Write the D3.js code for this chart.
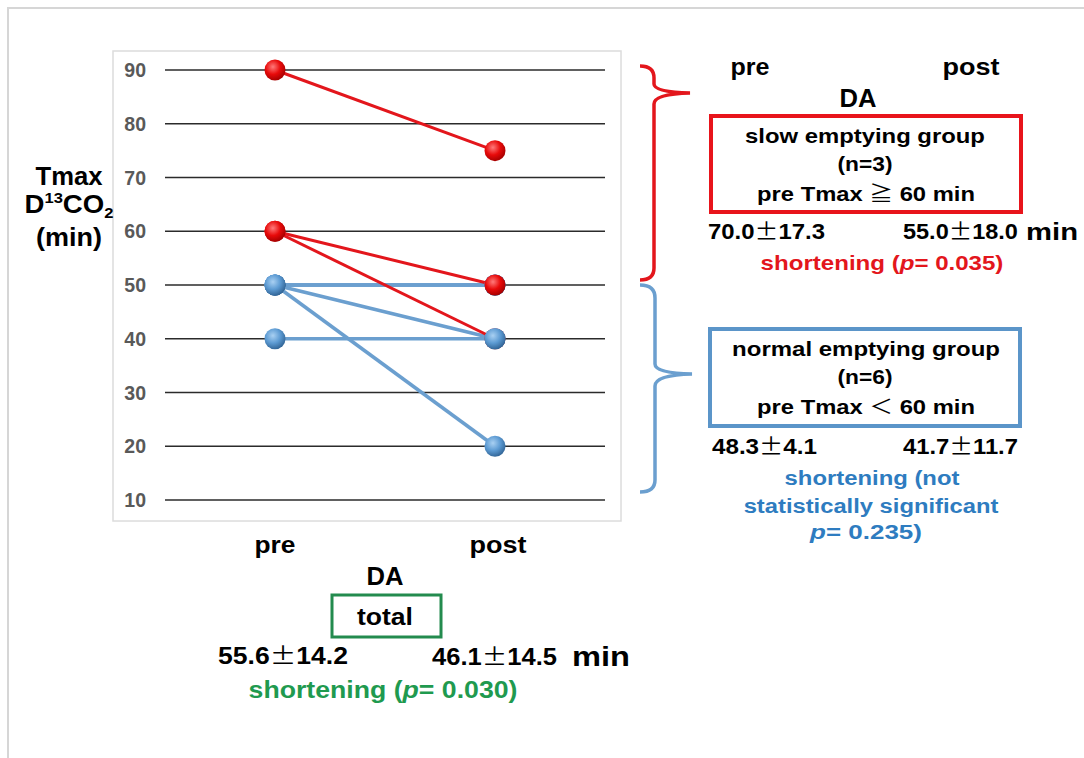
<!DOCTYPE html>
<html>
<head>
<meta charset="utf-8">
<script src="https://cdn.jsdelivr.net/npm/d3@7"></script>
<style>
  html, body { margin: 0; padding: 0; background: #fff; }
</style>
</head>
<body>
<div id="chart"></div>
<script>
// values
const categories = ['pre', 'post'];
const yTicks = [10, 20, 30, 40, 50, 60, 70, 80, 90];
// slow emptying group (n=3)
const slowPre = [90, 60, 60];
const slowPost = [75, 50, 40];
// normal emptying group (n=6), some pairs overlap
const normalPre = [50, 50, 50, 50, 50, 40];
const normalPost = [50, 50, 50, 40, 20, 40];

const FONT = "'Liberation Sans', Arial, sans-serif";
const CJK = "'Noto Sans CJK JP', sans-serif";
const RED = '#e3161c', BLUE = '#6b9fcf', GREEN = '#1f9a4f';

const svg = d3.select('#chart').append('svg').attr('width', 1084).attr('height', 758);

// outer frame
svg.append('rect').attr('x', 8).attr('y', 8).attr('width', 1100).attr('height', 800)
    .attr('fill', 'none').attr('stroke', '#d6d6d6').attr('stroke-width', 2);

// plot frame
svg.append('rect').attr('x', 113).attr('y', 51).attr('width', 508).attr('height', 470)
    .attr('fill', 'none').attr('stroke', '#dcdcdc').attr('stroke-width', 1.5);

const x = d3.scalePoint().domain(categories).range([275, 495]);
const y = d3.scaleLinear().domain([10, 90]).range([500, 70]);

// gridlines
svg.append('g').selectAll('line').data(yTicks).join('line')
    .attr('x1', 165).attr('x2', 605)
    .attr('y1', d => y(d)).attr('y2', d => y(d))
    .attr('stroke', '#2b2b2b').attr('stroke-width', 1.3);

// y tick labels
svg.append('g').selectAll('text').data(yTicks).join('text')
    .attr('x', 146).attr('y', d => y(d) + 7)
    .attr('text-anchor', 'end')
    .attr('font-family', FONT).attr('font-weight', 'bold').attr('font-size', 19.5)
    .attr('fill', '#595959')
    .text(d => d);

// gradients for the sphere markers
const defs = svg.append('defs');
function sphere(id, light, mid, dark) {
  const g = defs.append('radialGradient').attr('id', id)
      .attr('cx', '40%').attr('cy', '35%').attr('r', '65%');
  g.append('stop').attr('offset', '0%').attr('stop-color', light);
  g.append('stop').attr('offset', '55%').attr('stop-color', mid);
  g.append('stop').attr('offset', '100%').attr('stop-color', dark);
}
sphere('redBall', '#ff7a7a', '#e80a0a', '#a80000');
sphere('blueBall', '#a9d0f2', '#5d9bd3', '#34689a');

const pairs = (pre, post, grp) => pre.map((v, i) => ({grp: grp, vals: [v, post[i]]}));
const normalPairs = pairs(normalPre, normalPost, 'normal');
const slowPairs = pairs(slowPre, slowPost, 'slow');

const line = d3.line().x((d, i) => x(categories[i])).y(d => y(d));

svg.append('g').selectAll('path').data(normalPairs).join('path')
    .attr('d', d => line(d.vals)).attr('fill', 'none')
    .attr('stroke', BLUE).attr('stroke-width', 3.5);
svg.append('g').selectAll('path').data(slowPairs).join('path')
    .attr('d', d => line(d.vals)).attr('fill', 'none')
    .attr('stroke', RED).attr('stroke-width', 3);

// markers drawn patient by patient (series order as in the original sheet)
const seriesOrder = normalPairs.slice(0, 3).concat(slowPairs, normalPairs.slice(3));
const pts = [];
seriesOrder.forEach(p => p.vals.forEach((v, i) => pts.push({c: categories[i], v: v, grp: p.grp})));
svg.append('g').selectAll('circle').data(pts).join('circle')
    .attr('cx', d => x(d.c)).attr('cy', d => y(d.v)).attr('r', 10.5)
    .attr('fill', d => d.grp === 'slow' ? 'url(#redBall)' : 'url(#blueBall)');

// text helper: segments are strings or {t, font, weight, size, dy, italic}
function addText(px, py, segs, o) {
  const t = svg.append('text')
      .attr('text-anchor', o.anchor || 'middle')
      .attr('font-family', FONT)
      .attr('font-size', o.size)
      .attr('font-weight', o.weight || 'bold')
      .attr('fill', o.color || '#000');
  segs.forEach(s => {
    if (typeof s === 'string') s = {t: s};
    const sp = t.append('tspan').text(s.t);
    if (s.font) sp.attr('font-family', s.font);
    if (s.weight) sp.attr('font-weight', s.weight);
    if (s.size) sp.attr('font-size', s.size);
    if (s.dy) sp.attr('dy', s.dy);
    if (s.italic) sp.attr('font-style', 'italic');
  });
  let sx = 1;
  if (o.width) sx = o.width / t.node().getComputedTextLength();
  t.attr('transform', `translate(${px},${py}) scale(${sx},1)`);
  return t;
}
const pm = {t: '±', font: CJK, weight: 'normal'};

// y axis title
addText(69, 185, ['Tmax'], {size: 25, width: 67});
addText(69, 213, ['D', {t: '13', size: 15, dy: -10}, {t: 'CO', dy: 10}, {t: '2', size: 15, dy: 5}], {size: 25, width: 89});
addText(69, 246, ['(min)'], {size: 25, width: 66});

// category labels
addText(x('pre'), 553, ['pre'], {size: 24, width: 41});
addText(x('post') + 3, 553, ['post'], {size: 24, width: 57});
addText(385, 585, ['DA'], {size: 26, width: 37});

// total box
svg.append('rect').attr('x', 332).attr('y', 595).attr('width', 109).attr('height', 42)
    .attr('fill', 'none').attr('stroke', '#238b4e').attr('stroke-width', 3);
addText(385, 625, ['total'], {size: 24, width: 56});
addText(218, 664, ['55.6', pm, '14.2'], {anchor: 'start', size: 23, width: 130});
addText(432, 665, ['46.1', pm, '14.5'], {anchor: 'start', size: 23, width: 125});
addText(572, 666, ['min'], {anchor: 'start', size: 27, width: 58});
addText(383, 698, ['shortening (', {t: 'p', italic: true}, '= 0.030)'], {size: 24, width: 269, color: GREEN});

// braces
svg.append('path')
    .attr('d', 'M640,66 Q654,66 654,78 L654,84 Q654,92 690,93 Q654,94 654,104 L654,268 Q654,280 640,280')
    .attr('fill', 'none').attr('stroke', RED).attr('stroke-width', 3.5);
svg.append('path')
    .attr('d', 'M640,285 Q655,285 655,298 L655,364 Q655,373 692,374 Q655,375 655,386 L655,480 Q655,492 640,492')
    .attr('fill', 'none').attr('stroke', BLUE).attr('stroke-width', 3.5);

// right panel: slow emptying group
addText(750, 75, ['pre'], {size: 24, width: 39});
addText(971, 75, ['post'], {size: 24, width: 57});
addText(858, 107, ['DA'], {size: 26, width: 37});
svg.append('rect').attr('x', 711).attr('y', 116).attr('width', 310).attr('height', 96)
    .attr('fill', 'none').attr('stroke', '#e8141b').attr('stroke-width', 4);
addText(865, 143, ['slow emptying group'], {size: 20, width: 240});
addText(865, 171, ['(n=3)'], {size: 20, width: 55});
addText(866, 201, ['pre Tmax ', {t: '≧', font: CJK, weight: 'normal'}, ' 60 min'], {size: 20, width: 218});
addText(708, 239, ['70.0', pm, '17.3'], {anchor: 'start', size: 22, width: 117});
addText(903, 239, ['55.0', pm, '18.0'], {anchor: 'start', size: 22, width: 115});
addText(1026, 240, ['min'], {anchor: 'start', size: 24, width: 52});
addText(882, 270, ['shortening (', {t: 'p', italic: true}, '= 0.035)'], {size: 21, width: 243, color: RED});

// right panel: normal emptying group
svg.append('rect').attr('x', 710).attr('y', 329).attr('width', 310).attr('height', 97)
    .attr('fill', 'none').attr('stroke', '#5b95c9').attr('stroke-width', 4);
addText(866, 356, ['normal emptying group'], {size: 20, width: 268});
addText(865, 384, ['(n=6)'], {size: 20, width: 55});
addText(866, 414, ['pre Tmax ', {t: '＜', font: CJK, weight: 'normal'}, ' 60 min'], {size: 20, width: 218});
addText(712, 454, ['48.3', pm, '4.1'], {anchor: 'start', size: 22, width: 105});
addText(903, 454, ['41.7', pm, '11.7'], {anchor: 'start', size: 22, width: 115});
addText(872, 485, ['shortening (not'], {size: 21, width: 175, color: '#2e7cc0'});
addText(871, 513, ['statistically  significant'], {size: 21, width: 255, color: '#2e7cc0'});
addText(866, 539, [{t: 'p', italic: true}, '= 0.235)'], {size: 21, width: 112, color: '#2e7cc0'});
</script>
</body>
</html>
